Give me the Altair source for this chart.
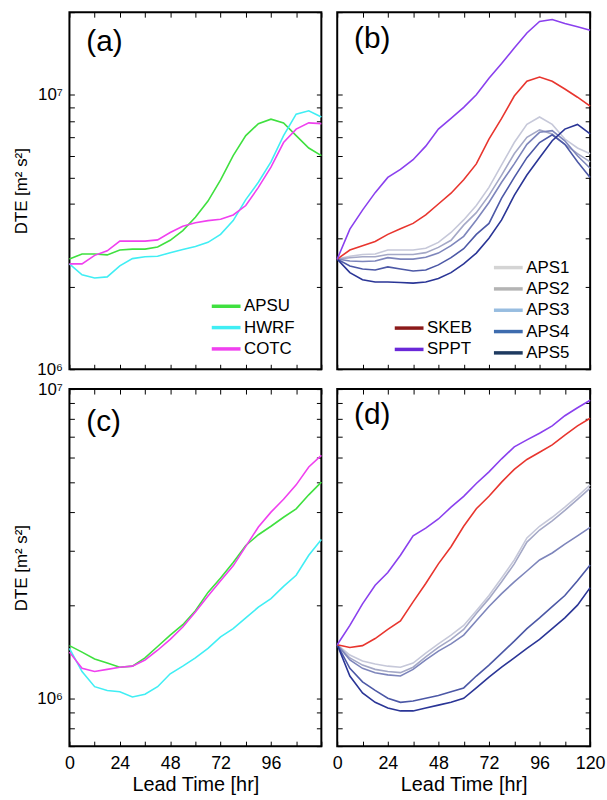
import altair as alt
import pandas as pd

# ---------------- data ----------------
HOURS = [0, 6, 12, 18, 24, 30, 36, 42, 48, 54, 60, 66, 72, 78, 84, 90, 96, 102, 108, 114, 120]

X_TICKS = [0, 12, 24, 36, 48, 60, 72, 84, 96, 108, 120]
X_LABELS_C = [0, 24, 48, 72, 96]
X_LABELS_D = [0, 24, 48, 72, 96, 120]

Y_TICKS_TOP = [1e6, 2e6, 3e6, 4e6, 5e6, 6e6, 7e6, 8e6, 9e6, 1e7, 2e7]
Y_TICKS_BOT = [7e5, 8e5, 9e5, 1e6, 2e6, 3e6, 4e6, 5e6, 6e6, 7e6, 8e6, 9e6, 1e7]
Y_DOMAIN_TOP = [1e6, 2e7]
Y_DOMAIN_BOT = [7e5, 1e7]

MODEL_NAMES = ["APSU", "HWRF", "COTC"]
MODEL_LINE_COLORS = ["#3fe03f", "#40eef4", "#f040ef"]

STOCH_NAMES = ["APS1", "APS2", "APS3", "APS4", "APS5", "SKEB", "SPPT"]
STOCH_LINE_COLORS = ["#c6c8d9", "#a4a8c6", "#7d85bb", "#4c58a6", "#2a3596", "#e8352e", "#8a40ee"]
SK_LEGEND_NAMES = ["SKEB", "SPPT"]
SK_LEGEND_COLORS = ["#8b1a1a", "#6a28d8"]
APS_LEGEND_NAMES = ["APS1", "APS2", "APS3", "APS4", "APS5"]
APS_LEGEND_COLORS = ["#d4d4d4", "#b4b4b4", "#98bde0", "#3e6cae", "#1e3a60"]

# panel (a)
A_APSU = [2.52e6, 2.63e6, 2.63e6, 2.61e6, 2.72e6, 2.74e6, 2.74e6, 2.79e6, 2.95e6, 3.2e6, 3.58e6,
          4.1e6, 4.9e6, 6.0e6, 7.1e6, 7.85e6, 8.15e6, 7.9e6, 7.1e6, 6.4e6, 6.0e6]
A_HWRF = [2.42e6, 2.21e6, 2.15e6, 2.17e6, 2.38e6, 2.53e6, 2.57e6, 2.58e6, 2.66e6, 2.73e6, 2.80e6,
          2.90e6, 3.1e6, 3.48e6, 4.15e6, 4.8e6, 5.7e6, 7.1e6, 8.5e6, 8.75e6, 8.3e6]
A_COTC = [2.42e6, 2.42e6, 2.60e6, 2.70e6, 2.93e6, 2.93e6, 2.93e6, 2.96e6, 3.15e6, 3.32e6, 3.42e6,
          3.48e6, 3.52e6, 3.65e6, 3.95e6, 4.6e6, 5.45e6, 6.7e6, 7.5e6, 7.9e6, 7.85e6]

# panel (b)
B_APS1 = [2.52e6, 2.58e6, 2.62e6, 2.63e6, 2.72e6, 2.72e6, 2.72e6, 2.76e6, 2.9e6, 3.15e6, 3.5e6,
          3.95e6, 4.6e6, 5.55e6, 6.7e6, 7.8e6, 8.3e6, 7.8e6, 6.9e6, 6.4e6, 6.1e6]
B_APS2 = [2.52e6, 2.55e6, 2.57e6, 2.57e6, 2.62e6, 2.62e6, 2.62e6, 2.66e6, 2.78e6, 2.95e6, 3.35e6,
          3.72e6, 4.3e6, 5.1e6, 6.1e6, 7.0e6, 7.45e6, 7.2e6, 6.6e6, 6.1e6, 5.7e6]
B_APS3 = [2.52e6, 2.48e6, 2.47e6, 2.48e6, 2.55e6, 2.52e6, 2.52e6, 2.56e6, 2.65e6, 2.82e6, 3.05e6,
          3.5e6, 4.05e6, 4.8e6, 5.6e6, 6.6e6, 7.3e6, 7.4e6, 6.8e6, 6.0e6, 5.4e6]
B_APS4 = [2.52e6, 2.38e6, 2.32e6, 2.30e6, 2.36e6, 2.32e6, 2.28e6, 2.30e6, 2.40e6, 2.55e6, 2.75e6,
          3.1e6, 3.4e6, 4.2e6, 5.0e6, 5.9e6, 6.7e6, 7.15e6, 6.6e6, 5.7e6, 5.0e6]
B_APS5 = [2.52e6, 2.25e6, 2.12e6, 2.08e6, 2.08e6, 2.07e6, 2.06e6, 2.08e6, 2.14e6, 2.25e6, 2.42e6,
          2.65e6, 3.0e6, 3.5e6, 4.3e6, 5.1e6, 5.9e6, 6.8e6, 7.5e6, 7.8e6, 7.2e6]
B_SKEB = [2.52e6, 2.72e6, 2.82e6, 2.92e6, 3.1e6, 3.25e6, 3.4e6, 3.65e6, 4.0e6, 4.38e6, 4.9e6,
          5.6e6, 6.9e6, 8.2e6, 9.9e6, 1.12e7, 1.16e7, 1.12e7, 1.05e7, 9.8e6, 9.1e6]
B_SPPT = [2.52e6, 3.24e6, 3.8e6, 4.4e6, 5.0e6, 5.35e6, 5.8e6, 6.5e6, 7.5e6, 8.2e6, 9.0e6,
          1.0e7, 1.15e7, 1.3e7, 1.48e7, 1.68e7, 1.85e7, 1.88e7, 1.82e7, 1.77e7, 1.72e7]

# panel (c)
C_APSU = [1.48e6, 1.41e6, 1.34e6, 1.30e6, 1.26e6, 1.27e6, 1.35e6, 1.47e6, 1.60e6, 1.73e6, 1.92e6,
          2.2e6, 2.45e6, 2.75e6, 3.12e6, 3.38e6, 3.6e6, 3.85e6, 4.1e6, 4.55e6, 5.0e6]
C_HWRF = [1.45e6, 1.22e6, 1.09e6, 1.06e6, 1.05e6, 1.01e6, 1.03e6, 1.09e6, 1.2e6, 1.27e6, 1.35e6,
          1.45e6, 1.58e6, 1.68e6, 1.82e6, 1.97e6, 2.1e6, 2.3e6, 2.5e6, 2.9e6, 3.26e6]
C_COTC = [1.41e6, 1.25e6, 1.22e6, 1.24e6, 1.26e6, 1.27e6, 1.33e6, 1.43e6, 1.55e6, 1.70e6, 1.90e6,
          2.14e6, 2.4e6, 2.68e6, 3.1e6, 3.58e6, 4.0e6, 4.4e6, 4.9e6, 5.6e6, 6.1e6]

# panel (d)
D_APS1 = [1.49e6, 1.38e6, 1.32e6, 1.29e6, 1.27e6, 1.26e6, 1.30e6, 1.40e6, 1.50e6, 1.60e6, 1.72e6,
          1.92e6, 2.15e6, 2.45e6, 2.8e6, 3.3e6, 3.6e6, 3.85e6, 4.15e6, 4.5e6, 4.9e6]
D_APS2 = [1.49e6, 1.35e6, 1.28e6, 1.24e6, 1.22e6, 1.21e6, 1.26e6, 1.36e6, 1.46e6, 1.55e6, 1.67e6,
          1.88e6, 2.1e6, 2.38e6, 2.72e6, 3.2e6, 3.5e6, 3.75e6, 4.05e6, 4.4e6, 4.78e6]
D_APS3 = [1.49e6, 1.33e6, 1.25e6, 1.21e6, 1.19e6, 1.18e6, 1.24e6, 1.33e6, 1.42e6, 1.50e6, 1.60e6,
          1.78e6, 1.98e6, 2.18e6, 2.38e6, 2.58e6, 2.8e6, 2.95e6, 3.15e6, 3.35e6, 3.57e6]
D_APS4 = [1.49e6, 1.25e6, 1.13e6, 1.06e6, 1.0e6, 0.97e6, 0.98e6, 1.0e6, 1.02e6, 1.05e6, 1.08e6,
          1.18e6, 1.28e6, 1.40e6, 1.53e6, 1.68e6, 1.82e6, 1.98e6, 2.15e6, 2.4e6, 2.7e6]
D_APS5 = [1.49e6, 1.18e6, 1.04e6, 0.97e6, 0.93e6, 0.91e6, 0.91e6, 0.93e6, 0.95e6, 0.97e6, 1.0e6,
          1.08e6, 1.17e6, 1.26e6, 1.35e6, 1.45e6, 1.55e6, 1.68e6, 1.82e6, 2.0e6, 2.28e6]
D_SKEB = [1.49e6, 1.46e6, 1.48e6, 1.56e6, 1.67e6, 1.78e6, 2.05e6, 2.35e6, 2.72e6, 3.09e6, 3.6e6,
          4.1e6, 4.5e6, 5.0e6, 5.5e6, 5.92e6, 6.25e6, 6.6e6, 7.1e6, 7.6e6, 8.05e6]
D_SPPT = [1.49e6, 1.72e6, 2.02e6, 2.32e6, 2.55e6, 2.9e6, 3.35e6, 3.55e6, 3.8e6, 4.15e6, 4.5e6,
          4.95e6, 5.4e6, 5.95e6, 6.5e6, 6.85e6, 7.2e6, 7.6e6, 8.2e6, 8.7e6, 9.2e6]

TAGS = ["(a)", "(b)", "(c)", "(d)"]
X_TITLE = "Lead Time [hr]"
Y_TITLE = "DTE [m² s²]"

# ---------------- style ----------------
FONT = "Liberation Sans"
W_LEFT, W_RIGHT, H = 254, 255, 360
TICK = 5
SYMBOL_PATH = "M-5,0L2.25,0"


def long_table(names, series):
    rows = []
    for name, vals in zip(names, series):
        for h, v in zip(HOURS, vals):
            rows.append({"hr": h, "dte": v, "series": name})
    return pd.DataFrame(rows)


def start_table(names, lookup):
    return pd.DataFrame({"hr": [HOURS[0]] * len(names),
                         "dte": [lookup[n][0] for n in names],
                         "series": names})


def axis_common():
    return dict(offset=-TICK, tickSize=TICK, domain=False, grid=False, tickColor="black",
                tickWidth=1, labelOverlap=False, labelFlush=False, labelFont=FONT,
                titleFont=FONT, labelColor="black", titleColor="black",
                titleFontWeight="normal")


Y_LABEL_TEST = "datum.value == 1000000 || datum.value == 10000000"
Y_LABEL_EXPR = "datum.value == 1000000 ? '10⁶' : (datum.value == 10000000 ? '10⁷' : '')"


def panel(names, series, colors, ydom, yticks, tag, tag_y, left, xlabels, legends, width):
    lookup = dict(zip(names, series))
    df = long_table(names, series)
    xs = alt.Scale(domain=[0, 120], nice=False, zero=False)
    ys = alt.Scale(type="log", domain=ydom, nice=False)

    if xlabels:
        xax = alt.Axis(orient="bottom", values=X_TICKS,
                       labelExpr=f"indexof({xlabels}, datum.value) >= 0 ? datum.label : ''",
                       labelFontSize=18, labelPadding=9, labelBaseline="top",
                       title=X_TITLE, titleFontSize=20, titlePadding=2, **axis_common())
    else:
        xax = alt.Axis(orient="bottom", values=X_TICKS, labels=False, title=None, **axis_common())
    if left:
        yax = alt.Axis(orient="left", values=yticks, labelExpr=Y_LABEL_EXPR,
                       labelFontSize={"condition": {"test": Y_LABEL_TEST, "value": 17}, "value": 0},
                       labelPadding=7, title=Y_TITLE, titleFontSize=17,
                       titlePadding=6, **axis_common())
    else:
        yax = alt.Axis(orient="left", values=yticks, labels=False, title=None, **axis_common())

    lines = alt.Chart(df).mark_line(strokeWidth=1.6).encode(
        x=alt.X("hr:Q", scale=xs, axis=xax),
        y=alt.Y("dte:Q", scale=ys, axis=yax),
        color=alt.Color("series:N", scale=alt.Scale(domain=names, range=colors), legend=None),
    )
    frame = alt.Chart(start_table(names, lookup)).mark_point(opacity=0).encode(
        x=alt.X("hr:Q", scale=xs, axis=alt.Axis(orient="top", values=X_TICKS, labels=False,
                                                  title=None, **axis_common())),
        y=alt.Y("dte:Q", scale=ys, axis=alt.Axis(orient="right", values=yticks, labels=False,
                                                   title=None, **axis_common())),
    )
    layers = [lines, frame]
    for lnames, lcolors, lx, ly in legends:
        layers.append(
            alt.Chart(start_table(lnames, lookup)).mark_line().encode(
                x=alt.X("hr:Q", scale=xs, axis=None),
                y=alt.Y("dte:Q", scale=ys, axis=None),
                stroke=alt.Stroke("series:N", scale=alt.Scale(domain=lnames, range=lcolors),
                                  legend=alt.Legend(orient="none", legendX=lx, legendY=ly,
                                                    title=None, symbolType=SYMBOL_PATH,
                                                    symbolSize=64, symbolStrokeWidth=3.5,
                                                    symbolOpacity=1, labelFont=FONT,
                                                    labelFontSize=17, labelColor="black",
                                                    rowPadding=3.5, padding=0, labelLimit=0)),
            )
        )
    tagc = alt.Chart(pd.DataFrame({"tag": [tag]})).mark_text(
        align="left", baseline="middle", fontSize=30, font=FONT, color="black"
    ).encode(x=alt.value(17), y=alt.value(tag_y), text="tag:N")
    layers.append(tagc)
    return (alt.layer(*layers)
            .resolve_scale(stroke="independent")
            .resolve_axis(x="independent", y="independent")
            .properties(width=width, height=H))


pa = panel(MODEL_NAMES, [A_APSU, A_HWRF, A_COTC], MODEL_LINE_COLORS, Y_DOMAIN_TOP, Y_TICKS_TOP,
           TAGS[0], 30, True, None, [(MODEL_NAMES, MODEL_LINE_COLORS, 155, 288)], W_LEFT)
pb = panel(STOCH_NAMES, [B_APS1, B_APS2, B_APS3, B_APS4, B_APS5, B_SKEB, B_SPPT],
           STOCH_LINE_COLORS, Y_DOMAIN_TOP, Y_TICKS_TOP, TAGS[1], 27, False, None,
           [(APS_LEGEND_NAMES, APS_LEGEND_COLORS, 169.5, 249),
            (SK_LEGEND_NAMES, SK_LEGEND_COLORS, 69.5, 310)], W_RIGHT)
pc = panel(MODEL_NAMES, [C_APSU, C_HWRF, C_COTC], MODEL_LINE_COLORS, Y_DOMAIN_BOT, Y_TICKS_BOT,
           TAGS[2], 33, True, X_LABELS_C, [], W_LEFT)
pdd = panel(STOCH_NAMES, [D_APS1, D_APS2, D_APS3, D_APS4, D_APS5, D_SKEB, D_SPPT],
            STOCH_LINE_COLORS, Y_DOMAIN_BOT, Y_TICKS_BOT, TAGS[3], 26, False, X_LABELS_D, [], W_RIGHT)

chart = (alt.concat(pa, pb, pc, pdd, columns=2, align="each", bounds="flush",
                    spacing=alt.RowColnumber(row=20, column=16))
         .resolve_scale(color="independent", stroke="independent")
         .resolve_legend(color="independent", stroke="independent")
         .properties(padding={"left": 12, "top": 7, "right": 0, "bottom": 0},
                     background="white")
         .configure_view(stroke="black", strokeWidth=2))

chart.save("out.html", embed_options={"renderer": "svg", "actions": False})
